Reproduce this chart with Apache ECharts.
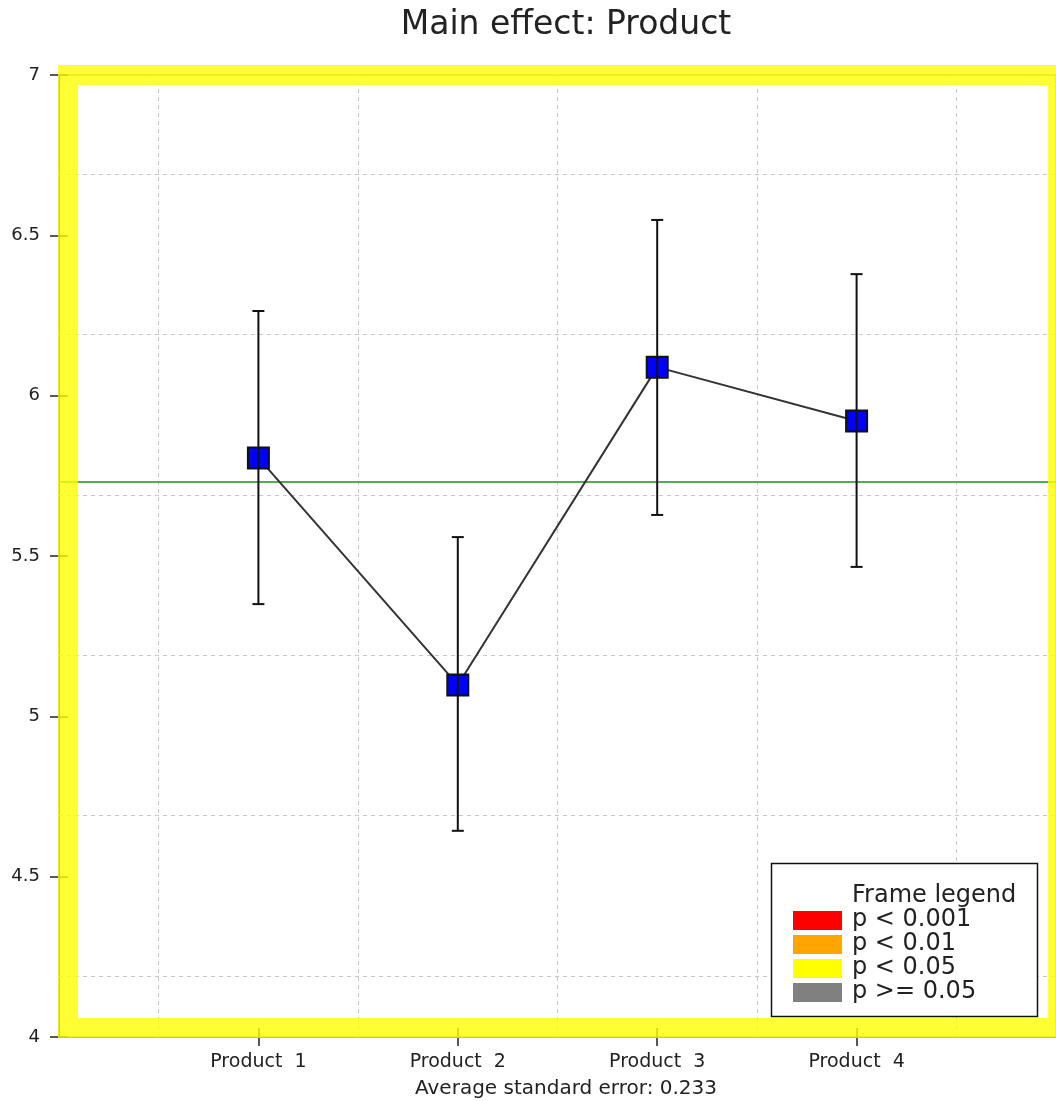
<!DOCTYPE html>
<html>
<head>
<meta charset="utf-8">
<script src="https://cdn.jsdelivr.net/npm/echarts@6/dist/echarts.min.js"></script>
<style>html,body{margin:0;padding:0;background:#fff}#c{width:1056px;height:1101px}</style>
</head>
<body>
<div id="c"></div>
<script>
// ---- data ----
const categories = ['Product  1', 'Product  2', 'Product  3', 'Product  4'];
const categoryPos = [1, 2, 3, 4];
const means = [5.806, 5.098, 6.089, 5.921];
const lower = [5.350, 4.643, 5.628, 5.466];
const upper = [6.264, 5.559, 6.548, 6.379];
const grandMean = 5.73;
const avgSE = '0.233';
const hGrid = [4.19, 4.69, 5.19, 5.69, 6.19, 6.69];
const vGrid = [0.5, 1.5, 2.5, 3.5, 4.5];
const legendTitle = 'Frame legend';
const legendLabels = ['p < 0.001', 'p < 0.01', 'p < 0.05', 'p >= 0.05'];
const legendColors = ['#ff0000', '#ffa500', '#ffff00', '#808080'];

const FONT = 'DejaVu Sans';
const chart = echarts.init(document.getElementById('c'));

const gridLines = [];
hGrid.forEach(v => gridLines.push({ yAxis: v }));
vGrid.forEach(v => gridLines.push({ xAxis: v }));

const legendEls = [];
legendEls.push({ type: 'rect', shape: { x: 771.5, y: 863.5, width: 266, height: 153 },
  style: { fill: '#fff', stroke: '#111', lineWidth: 1.5 }, z: 30 });
legendEls.push({ type: 'text', x: 852, y: 896, style: { text: legendTitle, font: '24px "' + FONT + '"', fill: '#222', textVerticalAlign: 'middle' }, z: 31 });
legendLabels.forEach((lab, i) => {
  legendEls.push({ type: 'rect', shape: { x: 793, y: 911 + i * 24, width: 49, height: 19 },
    style: { fill: legendColors[i] }, z: 31 });
  legendEls.push({ type: 'text', x: 852, y: 920 + i * 24, style: { text: lab, font: '24px "' + FONT + '"', fill: '#222', textVerticalAlign: 'middle' }, z: 31 });
});

const xBase = {
  type: 'value', min: 0, max: 5, interval: 1, position: 'bottom',
  splitLine: { show: false }
};
const yBase = {
  type: 'value', min: 4, max: 7, interval: 0.5, position: 'left',
  splitLine: { show: false }
};

chart.setOption({
  animation: false,
  backgroundColor: '#fff',
  title: [{
    text: 'Main effect: Product', left: 561, top: 4, textAlign: 'center',
    textStyle: { fontFamily: FONT, fontSize: 33, fontWeight: 'normal', color: '#222' }
  }, {
    text: 'Average standard error: ' + avgSE, left: 561, top: 1074, textAlign: 'center',
    textStyle: { fontFamily: FONT, fontSize: 20, fontWeight: 'normal', color: '#222' }
  }],
  grid: { left: 59, top: 75, width: 1000, height: 962, show: true, borderColor: '#555', borderWidth: 1, backgroundColor: '#fff' },
  xAxis: [Object.assign({}, xBase, {
    axisLine: { show: true, lineStyle: { color: '#222', width: 1 } },
    axisTick: { show: true, length: 9, lineStyle: { color: '#222', width: 1.5 }, customValues: categoryPos },
    axisLabel: { fontFamily: FONT, fontSize: 19, color: '#222', margin: 16,
      customValues: categoryPos,
      formatter: v => categories[categoryPos.indexOf(v)] || '' }
  }), Object.assign({}, xBase, {
    axisLine: { show: false },
    axisTick: { show: true, inside: true, length: 9, lineStyle: { color: '#222', width: 1.5 }, customValues: categoryPos },
    axisLabel: { show: false }
  })],
  yAxis: [Object.assign({}, yBase, {
    axisLine: { show: true, lineStyle: { color: '#222', width: 1 } },
    axisTick: { show: true, length: 9, lineStyle: { color: '#222', width: 1.5 } },
    axisLabel: { fontFamily: FONT, fontSize: 18, color: '#222', margin: 19 }
  }), Object.assign({}, yBase, {
    axisLine: { show: false },
    axisTick: { show: true, inside: true, length: 9, lineStyle: { color: '#222', width: 1.5 } },
    axisLabel: { show: false }
  })],
  graphic: [
    { type: 'rect', shape: { x: 68, y: 75, width: 990, height: 953 },
      style: { fill: 'none', stroke: 'rgba(255,255,0,0.8)', lineWidth: 20 }, z: 20, silent: true },
    ...legendEls
  ],
  series: [
    {
      type: 'line', data: [], silent: true, z: 1,
      markLine: {
        silent: true, symbol: 'none', label: { show: false }, animation: false,
        lineStyle: { color: '#c8c8c8', type: [4, 4], width: 1 },
        data: gridLines
      }
    },
    {
      type: 'line', data: [], silent: true, z: 2,
      markLine: {
        silent: true, symbol: 'none', label: { show: false }, animation: false,
        lineStyle: { color: '#4caf50', type: 'solid', width: 2 },
        data: [{ yAxis: grandMean }]
      }
    },
    {
      type: 'line', z: 5,
      data: categoryPos.map((x, i) => [x, means[i]]),
      symbol: 'rect', symbolSize: 21,
      itemStyle: { color: '#0000ff', borderColor: '#111', borderWidth: 2 },
      lineStyle: { color: '#333', width: 2 }
    },
    {
      type: 'custom', z: 6,
      data: categoryPos.map((x, i) => [x, lower[i], upper[i]]),
      renderItem: function (params, api) {
        const x = api.value(0);
        const lo = api.coord([x, api.value(1)]);
        const hi = api.coord([x, api.value(2)]);
        const hw = 6;
        const st = { stroke: '#111', lineWidth: 2 };
        return {
          type: 'group',
          children: [
            { type: 'line', shape: { x1: lo[0], y1: lo[1], x2: hi[0], y2: hi[1] }, style: st },
            { type: 'line', shape: { x1: lo[0] - hw, y1: lo[1], x2: lo[0] + hw, y2: lo[1] }, style: st },
            { type: 'line', shape: { x1: hi[0] - hw, y1: hi[1], x2: hi[0] + hw, y2: hi[1] }, style: st }
          ]
        };
      }
    }
  ]
});
</script>
</body>
</html>
